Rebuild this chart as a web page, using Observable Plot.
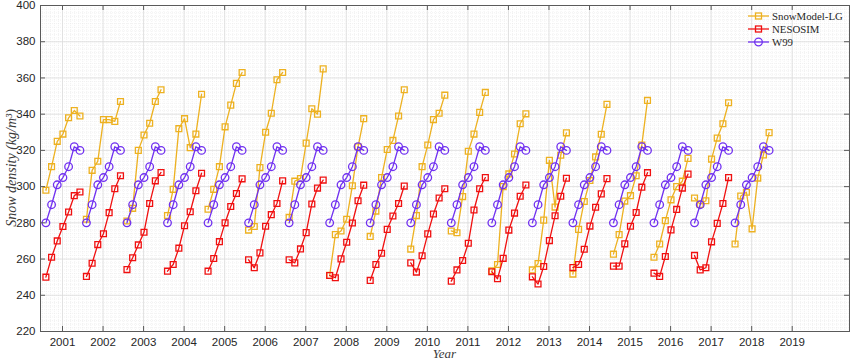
<!DOCTYPE html>
<html><head><meta charset="utf-8">
<script src="https://cdn.jsdelivr.net/npm/d3@7"></script>
<script src="https://cdn.jsdelivr.net/npm/@observablehq/plot@0.6"></script>
<style>body{margin:0;background:#fff} #chart{width:850px;height:360px}</style>
</head><body><div id="chart"></div>
<script>
// Season start years (each season: 7 monthly points)
const seasons = [2000,2001,2002,2003,2004,2005,2006,2007,2008,2009,2010,2011,2012,2013,2014,2015,2016,2017];
// position of each monthly point inside a season, in years after the season start year
const monthOffsets = [0.59, 0.73, 0.87, 1.01, 1.15, 1.29, 1.43];

// W99 climatology (same every season)
const w99Values = [280, 290, 301, 305, 311, 322, 320];

// SnowModel-LG, seasons 2000..2017
const snowModelLG = [
  [298, 311, 325, 329, 338, 342, 339],
  [282, 309, 314, 337, 337, 336, 347],
  [281, 288, 320, 328.5, 335, 347, 353.5],
  [284, 298.5, 332, 337.5, 321.5, 329, 351],
  [287.5, 298.5, 311, 333, 345, 357, 363],
  [276, 278, 310.5, 330, 340.5, 359, 363],
  [283, 303, 304.5, 324, 343, 340, 365],
  [251, 273.5, 275.5, 282, 300.5, 322, 337.5],
  [272.5, 286.5, 305, 320.5, 325.5, 339, 353.5],
  [265.5, 284, 311, 323, 337, 340.5, 350.5],
  [275.5, 274.5, 294.5, 319.5, 329, 341, 352],
  [253.5, 257, 300, 307, 318, 334.7, 340.2],
  [254, 257.5, 281.5, 314.5, 288.7, 317.3, 329.7],
  [251.7, 276.4, 291.8, 303.4, 316.4, 328.9, 345.4],
  [262.7, 273.5, 292, 295, 306, 323, 347.6],
  [261, 268.3, 281.2, 292.7, 300, 303, 315.6],
  [293.7, 290.2, 292.2, 315.2, 326.8, 334.7, 346.3],
  [268.3, 294.8, 296.9, 276.7, 304.7, 317.5, 329.8]
];

// NESOSIM, seasons 2000..2016
const nesosim = [
  [250, 261, 270, 278, 286, 295, 297],
  [250.4, 257.7, 268, 274, 285.6, 298.8, 306],
  [254.2, 260.7, 267.8, 274.8, 290.7, 303.2, 307.8],
  [253.3, 257, 266, 278.4, 286.1, 297.7, 307.4],
  [253.3, 260.3, 269.6, 280, 289, 296.2, 304.3],
  [259.6, 255.2, 263.4, 278.1, 284.5, 290.7, 303.2],
  [259.6, 257.9, 265.6, 274.6, 290.4, 299.2, 303.6],
  [250.9, 249.7, 260.1, 269.3, 279.9, 292.2, 300.8],
  [248.2, 257, 263.2, 276.4, 283.8, 290.7, 300.3],
  [257.9, 252.8, 261.8, 273.9, 284.9, 293.7, 298.8],
  [247.8, 254, 259.2, 268.7, 287.1, 298.8, 305],
  [253, 249.1, 260.4, 276, 285.4, 294.7, 300.9],
  [250.2, 246.2, 255.9, 270.2, 283.9, 294.7, 304.6],
  [255.3, 257, 265.4, 278.2, 288.6, 296, 304.4],
  [256.1, 256.1, 268.4, 278.1, 285.7, 299.7, 307.7],
  [252.2, 250.4, 261.4, 276.1, 287.4, 299.2, 306.9],
  [262, 254, 255.2, 269.5, 279.7, 290.7, 305]
];

const seriesNames = ["SnowModel-LG", "NESOSIM", "W99"];
const seriesColors = ["#EDB120", "#F01010", "#7030F0"];
const yearTicks = d3.range(2001, 2020);
const densityTicks = d3.range(220, 401, 20);
const xDomain = [2000.457, 2020.413];
const yDomain = [220, 400];

function toLong(rows, name) {
  const out = [];
  rows.forEach((vals, i) => vals.forEach((v, k) => out.push({series: name, season: seasons[i], x: seasons[i] + monthOffsets[k], y: v})));
  return out;
}
const smData = toLong(snowModelLG, "SnowModel-LG");
const neData = toLong(nesosim, "NESOSIM");
const w9Data = toLong(seasons.map(() => w99Values), "W99");

const minorX = d3.range(2000.5, 2020.41, 0.1).map(v => +v.toFixed(2));
const minorY = d3.range(220, 401, 2);

const W = 850, H = 360, mL = 40, mR = 1, mT = 5, mB = 29;
const innerW = W - mL - mR, innerH = H - mT - mB;
const axisColor = "#5a5a5a";

function seriesMarks(data, color, symbol, r) {
  return [
    Plot.line(data, {x: "x", y: "y", z: "season", stroke: color, strokeWidth: 1.3}),
    Plot.dot(data, {x: "x", y: "y", symbol, r, stroke: color, strokeWidth: 1.3, fill: "none"})
  ];
}

const chart = Plot.plot({
  width: W, height: H,
  marginLeft: mL, marginRight: mR, marginTop: mT, marginBottom: mB,
  style: {fontFamily: "'Liberation Sans', Arial, sans-serif", fontSize: "11.5px", color: "#262626", background: "#fff"},
  x: {domain: xDomain, label: null},
  y: {domain: yDomain, label: null},
  marks: [
    Plot.ruleX(minorX, {stroke: "#e9e9e9", strokeWidth: 0.6, strokeDasharray: "1,1"}),
    Plot.ruleY(minorY, {stroke: "#e9e9e9", strokeWidth: 0.6, strokeDasharray: "1,1"}),
    Plot.ruleX(yearTicks, {stroke: "#dcdcdc", strokeWidth: 0.8}),
    Plot.ruleY(densityTicks, {stroke: "#dcdcdc", strokeWidth: 0.8}),
    ...seriesMarks(smData, seriesColors[0], "square", 3.3),
    ...seriesMarks(neData, seriesColors[1], "square", 3.3),
    ...seriesMarks(w9Data, seriesColors[2], "circle", 3.8),
    Plot.frame({stroke: axisColor, strokeWidth: 1}),
    Plot.tickX(yearTicks, {x: d => d, insetTop: innerH - 5, stroke: axisColor}),
    Plot.tickX(yearTicks, {x: d => d, insetBottom: innerH - 5, stroke: axisColor}),
    Plot.tickY(densityTicks, {y: d => d, insetRight: innerW - 5, stroke: axisColor}),
    Plot.tickY(densityTicks, {y: d => d, insetLeft: innerW - 5, stroke: axisColor}),
    Plot.axisX(yearTicks, {tickSize: 0, tickPadding: 6, tickFormat: d => String(d), label: null}),
    Plot.axisY(densityTicks, {tickSize: 0, tickPadding: 5, label: null})
  ]
});

document.getElementById("chart").appendChild(chart);

// titles and legend
const svg = d3.select(chart);
svg.append("text")
  .attr("transform", `translate(16,${mT + innerH / 2}) rotate(-90)`)
  .attr("text-anchor", "middle")
  .attr("font-family", "'Liberation Serif', 'DejaVu Serif', serif")
  .attr("font-style", "italic").attr("font-size", 14).attr("fill", "#3a3a3a")
  .text("Snow density (kg/m³)");
svg.append("text")
  .attr("x", mL + innerW / 2).attr("y", 358)
  .attr("text-anchor", "middle")
  .attr("font-family", "'Liberation Serif', 'DejaVu Serif', serif")
  .attr("font-style", "italic").attr("font-size", 13).attr("fill", "#3a3a3a")
  .text("Year");

const leg = svg.append("g").attr("text-anchor", "start");
const symbols = ["square", "square", "circle"];
seriesNames.forEach((name, i) => {
  const yy = 16 + i * 13;
  const g = leg.append("g");
  g.append("line").attr("x1", 748).attr("x2", 769).attr("y1", yy).attr("y2", yy)
    .attr("stroke", seriesColors[i]).attr("stroke-width", 1.3);
  if (symbols[i] === "square") {
    g.append("rect").attr("x", 758.5 - 3).attr("y", yy - 3).attr("width", 6).attr("height", 6)
      .attr("fill", "none").attr("stroke", seriesColors[i]).attr("stroke-width", 1.3);
  } else {
    g.append("circle").attr("cx", 758.5).attr("cy", yy).attr("r", 3.8)
      .attr("fill", "none").attr("stroke", seriesColors[i]).attr("stroke-width", 1.3);
  }
  g.append("text").attr("x", 772).attr("y", yy + 3.6).attr("text-anchor", "start")
    .attr("font-family", "'Liberation Serif', 'DejaVu Serif', serif")
    .attr("font-size", 10.8).attr("fill", "#262626").text(name);
});
</script>
</body></html>
